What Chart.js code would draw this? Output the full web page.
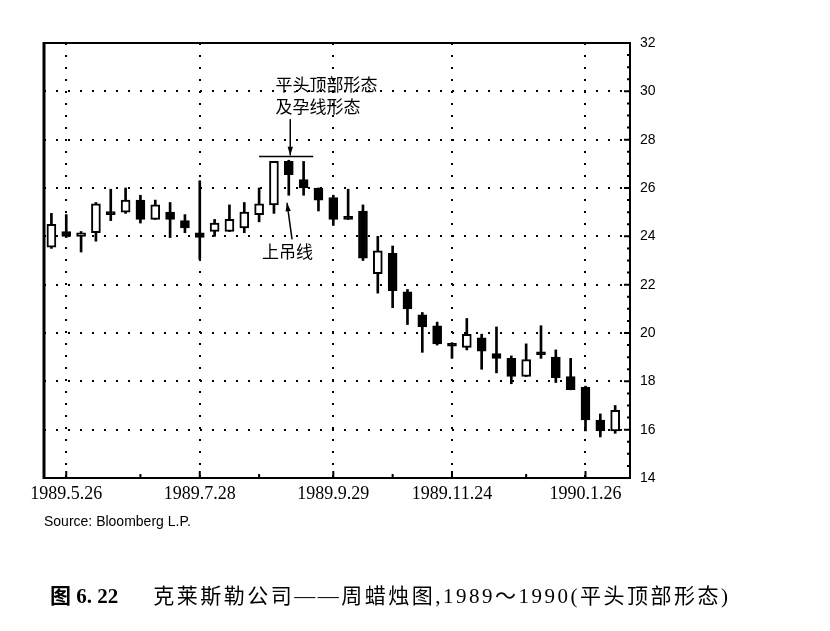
<!DOCTYPE html>
<html>
<head>
<meta charset="utf-8">
<script src="https://cdn.jsdelivr.net/npm/chart.js@4.4.1/dist/chart.umd.min.js"></script>
<style>
  body { margin: 0; background: #fff; }
  #wrap { position: relative; width: 830px; height: 631px; }
  #source { position: absolute; left: 44px; top: 513px; font: 14px "Liberation Sans", Arial, sans-serif; color: #000; }
  #caption { position: absolute; left: 50px; top: 579px; font: 21px "Liberation Serif", "Noto Sans CJK SC", serif; letter-spacing: 2.5px; color: #000; white-space: nowrap; }
  #caption b { margin-right: 35px; letter-spacing: 0; }
</style>
</head>
<body>
<div id="wrap">
  <canvas id="chart" width="830" height="631"></canvas>
  <div id="source">Source: Bloomberg L.P.</div>
  <div id="caption"><b>图 6. 22</b>克莱斯勒公司——周蜡烛图,1989～1990(平头顶部形态)</div>
</div>
<script>
// weekly candles, first one is the week before 1989.5.26
const firstWeek = -1;
const opens  = [23.55, 24.2, 24.0, 24.15, 25.0, 25.0, 25.5, 24.7, 25.0, 24.65, 24.15, 24.2, 24.2, 24.35,
                24.9, 25.3, 27.1, 26.35, 26.0, 25.6, 24.75, 25.05, 22.45, 23.3, 21.7, 20.75, 20.3,
                19.5, 19.4, 19.8, 19.15, 18.95, 18.2, 19.2, 19.0, 18.2, 17.75, 16.4, 15.95];
const highs  = [24.95, 24.9, 24.2, 25.4, 25.95, 26.0, 25.7, 25.5, 25.4, 24.9, 26.3, 24.7, 25.3, 25.4,
                26.0, 27.1, 27.15, 27.1, 26.0, 25.7, 25.95, 25.3, 24.0, 23.6, 21.8, 20.85, 20.45,
                19.6, 20.6, 19.95, 20.25, 19.05, 19.55, 20.3, 19.3, 18.95, 17.8, 16.65, 17.0];
const lows   = [23.5, 23.95, 23.35, 23.8, 24.65, 24.95, 24.55, 24.7, 23.95, 24.15, 23.05, 24.0, 24.2, 24.15,
                24.6, 24.95, 25.7, 25.7, 25.05, 24.45, 24.7, 23.0, 21.65, 21.05, 20.35, 19.2, 19.5,
                18.95, 19.3, 18.5, 18.35, 17.9, 18.2, 18.95, 17.95, 17.65, 15.95, 15.7, 15.85];
const closes = [24.5, 24.0, 24.15, 25.35, 24.9, 25.5, 24.7, 25.3, 24.7, 24.35, 23.95, 24.55, 24.7, 25.0,
                25.35, 27.1, 26.55, 26.0, 25.5, 24.7, 24.7, 23.1, 23.4, 21.75, 21.0, 20.25, 19.55,
                19.45, 19.95, 19.25, 18.95, 18.2, 18.9, 19.1, 18.15, 17.65, 16.4, 15.95, 16.8];

// axis ticks (week numbers counted from 1989.5.26)
const tickWeeks  = [0, 9, 18, 26, 35];
const tickLabels = ['1989.5.26', '1989.7.28', '1989.9.29', '1989.11.24', '1990.1.26'];
const monthWeeks = [5, 13, 22, 31];
const yTicks = [14, 16, 18, 20, 22, 24, 26, 28, 30, 32];

const wicks = opens.map((o, i) => ({ x: firstWeek + i, y: [lows[i], highs[i]] }));
const bodies = opens.map((o, i) => ({ x: firstWeek + i, y: [Math.min(o, closes[i]), Math.max(o, closes[i])] }));
const bodyFill = opens.map((o, i) => closes[i] >= o ? '#fff' : '#000');

// frame, inner tick marks and the pattern notes
const decor = {
  id: 'decor',
  afterDraw(chart) {
    const { ctx, chartArea: a, scales: { x, y } } = chart;
    ctx.save();
    ctx.strokeStyle = '#000';
    ctx.lineWidth = 2;
    ctx.strokeRect(a.left, a.top, a.right - a.left, a.bottom - a.top);
    ctx.lineWidth = 3;
    ctx.beginPath(); ctx.moveTo(a.left, a.top - 1); ctx.lineTo(a.left, a.bottom + 1); ctx.stroke();

    ctx.lineWidth = 2;
    ctx.beginPath();
    for (let v = yTicks[0]; v <= yTicks[yTicks.length - 1]; v += 0.5) {
      const py = y.getPixelForValue(v);
      const len = yTicks.includes(v) ? 6 : 3;
      ctx.moveTo(a.right - len, py); ctx.lineTo(a.right, py);
    }
    tickWeeks.forEach(w => { const px = x.getPixelForValue(w); ctx.moveTo(px, a.bottom); ctx.lineTo(px, a.bottom - 7); });
    monthWeeks.forEach(w => { const px = x.getPixelForValue(w); ctx.moveTo(px, a.bottom); ctx.lineTo(px, a.bottom - 4); });
    ctx.stroke();

    // flat top line and arrows
    ctx.lineWidth = 1.5;
    ctx.beginPath();
    ctx.moveTo(x.getPixelForValue(13.0), y.getPixelForValue(27.3));
    ctx.lineTo(x.getPixelForValue(16.65), y.getPixelForValue(27.3));
    ctx.stroke();
    const arrow = (x0, y0, x1, y1) => {
      const ax = x.getPixelForValue(x0), ay = y.getPixelForValue(y0);
      const bx = x.getPixelForValue(x1), by = y.getPixelForValue(y1);
      ctx.beginPath(); ctx.moveTo(ax, ay); ctx.lineTo(bx, by); ctx.stroke();
      const ang = Math.atan2(by - ay, bx - ax);
      ctx.beginPath();
      ctx.moveTo(bx, by);
      ctx.lineTo(bx - 9 * Math.cos(ang - 0.3), by - 9 * Math.sin(ang - 0.3));
      ctx.lineTo(bx - 9 * Math.cos(ang + 0.3), by - 9 * Math.sin(ang + 0.3));
      ctx.closePath(); ctx.fillStyle = '#000'; ctx.fill();
    };
    arrow(15.1, 28.85, 15.1, 27.35);
    arrow(15.22, 23.87, 14.88, 25.39);

    ctx.fillStyle = '#000';
    ctx.font = '17px "Noto Sans CJK SC", sans-serif';
    ctx.textAlign = 'left';
    ctx.textBaseline = 'middle';
    ctx.fillText('平头顶部形态', x.getPixelForValue(14.1), y.getPixelForValue(30.3));
    ctx.fillText('及孕线形态', x.getPixelForValue(14.1), y.getPixelForValue(29.35));
    ctx.fillText('上吊线', x.getPixelForValue(13.2), y.getPixelForValue(23.38));
    ctx.restore();
  }
};

new Chart(document.getElementById('chart'), {
  type: 'bar',
  data: {
    datasets: [
      {
        data: bodies,
        backgroundColor: bodyFill,
        borderColor: '#000',
        borderWidth: 2,
        borderSkipped: false,
        barThickness: 9,
        minBarLength: 3,
        grouped: false,
        order: 0
      },
      {
        data: wicks,
        backgroundColor: '#000',
        borderWidth: 0,
        barThickness: 2,
        grouped: false,
        order: 1
      }
    ]
  },
  options: {
    responsive: false,
    animation: false,
    layout: { padding: { left: 44, top: 43, right: 155, bottom: 123 } },
    plugins: { legend: { display: false }, tooltip: { enabled: false } },
    scales: {
      x: {
        type: 'linear',
        position: 'bottom',
        offset: false,
        min: -1.5,
        max: 38,
        afterBuildTicks: axis => { axis.ticks = tickWeeks.map(v => ({ value: v })); },
        afterFit: axis => { axis.height = 30; },
        ticks: {
          color: '#000',
          padding: 5,
          maxRotation: 0,
          autoSkip: false,
          font: { family: 'Liberation Serif', size: 18 },
          callback: v => tickLabels[tickWeeks.indexOf(v)]
        },
        grid: { color: '#000', lineWidth: 2, drawTicks: false, offset: false },
        border: { display: false, dash: [2, 10] }
      },
      y: {
        type: 'linear',
        position: 'right',
        min: 14,
        max: 32,
        afterBuildTicks: axis => { axis.ticks = yTicks.map(v => ({ value: v })); },
        afterFit: axis => { axis.width = 45; },
        ticks: {
          color: '#000',
          padding: 10,
          font: { family: 'Liberation Sans', size: 14 }
        },
        grid: { color: '#000', lineWidth: 2, drawTicks: false },
        border: { display: false, dash: [2, 10] }
      }
    }
  },
  plugins: [decor]
});
</script>
</body>
</html>
